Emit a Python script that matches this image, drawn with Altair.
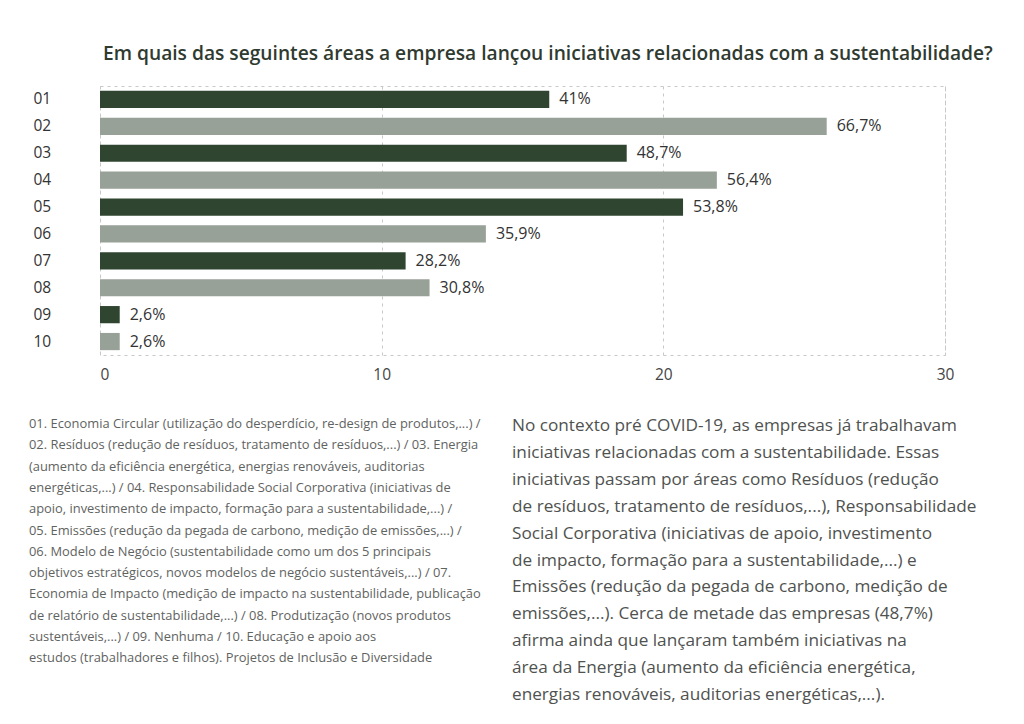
import altair as alt
import pandas as pd

# ---- data ----
codes = ["01", "02", "03", "04", "05", "06", "07", "08", "09", "10"]
values = [15.95, 25.8, 18.7, 21.9, 20.7, 13.7, 10.85, 11.7, 0.7, 0.7]
pct_labels = ["41%", "66,7%", "48,7%", "56,4%", "53,8%", "35,9%", "28,2%", "30,8%", "2,6%", "2,6%"]
groups = ["a", "b", "a", "b", "a", "b", "a", "b", "a", "b"]
x_ticks = [0, 10, 20, 30]

title_text = "Em quais das seguintes áreas a empresa lançou iniciativas relacionadas com a sustentabilidade?"

footnote_lines = [
    "01. Economia Circular (utilização do desperdício, re-design de produtos,...) /",
    "02. Resíduos (redução de resíduos, tratamento de resíduos,...) / 03. Energia",
    "(aumento da eficiência energética, energias renováveis, auditorias",
    "energéticas,...) / 04. Responsabilidade Social Corporativa (iniciativas de",
    "apoio, investimento de impacto, formação para a sustentabilidade,...) /",
    "05. Emissões (redução da pegada de carbono, medição de emissões,...) /",
    "06. Modelo de Negócio (sustentabilidade como um dos 5 principais",
    "objetivos estratégicos, novos modelos de negócio sustentáveis,...) / 07.",
    "Economia de Impacto (medição de impacto na sustentabilidade, publicação",
    "de relatório de sustentabilidade,...) / 08. Produtização (novos produtos",
    "sustentáveis,...) / 09. Nenhuma / 10. Educação e apoio aos",
    "estudos (trabalhadores e filhos). Projetos de Inclusão e Diversidade",
]

paragraph_lines = [
    "No contexto pré COVID-19, as empresas já trabalhavam",
    "iniciativas relacionadas com a sustentabilidade. Essas",
    "iniciativas passam por áreas como Resíduos (redução",
    "de resíduos, tratamento de resíduos,...), Responsabilidade",
    "Social Corporativa (iniciativas de apoio, investimento",
    "de impacto, formação para a sustentabilidade,...) e",
    "Emissões (redução da pegada de carbono, medição de",
    "emissões,...). Cerca de metade das empresas (48,7%)",
    "afirma ainda que lançaram também iniciativas na",
    "área da Energia (aumento da eficiência energética,",
    "energias renováveis, auditorias energéticas,...).",
]

FONT = "Open Sans"
DARK = "#2f4530"
GREY = "#98a197"

df = pd.DataFrame({"code": codes, "value": values, "label": pct_labels, "grp": groups})
one = pd.DataFrame({"k": [0]})

y_enc = alt.Y("code:N", sort=codes,
              scale=alt.Scale(paddingInner=0.36, paddingOuter=0.18),
              axis=alt.Axis(title=None, domain=False, ticks=False, tickSize=0,
                            labelAlign="left", labelPadding=67, labelFontSize=15.5,
                            labelColor="#333333", labelFont=FONT, grid=False))
x_enc = alt.X("value:Q", scale=alt.Scale(domain=[0, 30], nice=False),
              axis=alt.Axis(title=None, values=x_ticks, domain=False, ticks=False, tickSize=0,
                            labelPadding=12, labelFontSize=15.5, labelColor="#444444",
                            labelFont=FONT, labelFlush=False,
                            labelAlign={"condition": {"test": "datum.value == 0", "value": "left"},
                                        "value": "center"},
                            grid=True, gridColor="#c8c8c8",
                            gridDash=[3, 4], gridWidth=1))

bars = alt.Chart(df).mark_bar().encode(
    x=x_enc, y=y_enc,
    color=alt.Color("grp:N", scale=alt.Scale(domain=["a", "b"], range=[DARK, GREY]), legend=None),
)

labels = alt.Chart(df).mark_text(align="left", baseline="middle", dx=10, fontSize=16,
                                 font=FONT, color="#333333").encode(
    x="value:Q", y=alt.Y("code:N", sort=codes), text="label:N")

footnote = alt.Chart(one).mark_text(
    text=footnote_lines, align="left", baseline="top", fontSize=12.9, lineHeight=21.3,
    font=FONT, color="#5f635f").encode(x=alt.value(-71), y=alt.value(332))

paragraph = alt.Chart(one).mark_text(
    text=paragraph_lines, align="left", baseline="top", fontSize=17.2, lineHeight=26.9,
    font=FONT, color="#4f524f").encode(x=alt.value(412), y=alt.value(331))

chart = alt.layer(bars, labels, footnote, paragraph).properties(
    width=845, height=269,
    title=alt.TitleParams(text=title_text, anchor="start", frame="group", dx=3, offset=22,
                          fontSize=19.2, font=FONT, fontWeight=600, color="#2f3a30"),
    autosize=alt.AutoSizeParams(type="none"),
    padding={"left": 92, "top": 78, "right": 71, "bottom": 354},
).configure_view(stroke="#c8c8c8", strokeDash=[3, 4], strokeWidth=1)

chart.save("out.html", embed_options={"renderer": "svg", "actions": False})
